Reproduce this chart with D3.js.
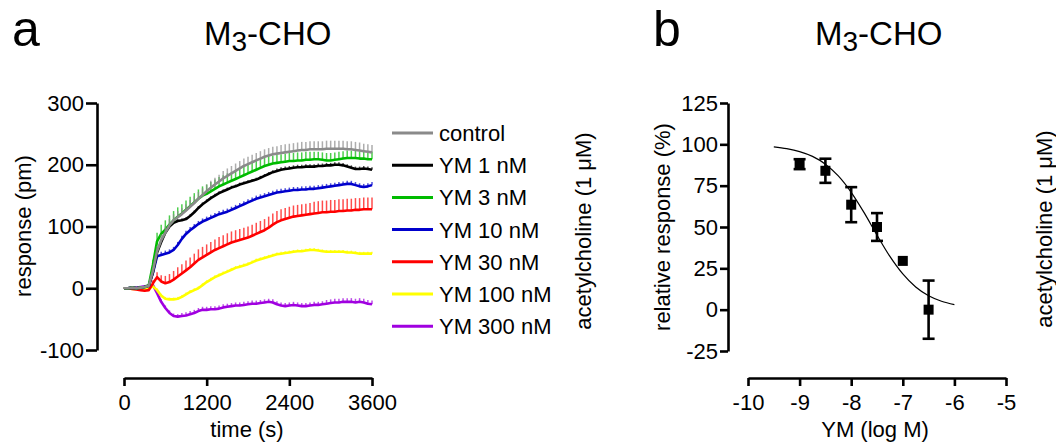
<!DOCTYPE html>
<html>
<head>
<meta charset="utf-8">
<script src="https://cdn.jsdelivr.net/npm/d3@7"></script>
<style>
body { margin: 0; background: #fff; }
svg text { font-family: Arial, "Liberation Sans", sans-serif; fill: #000; }
</style>
</head>
<body>
<svg id="chart" width="1056" height="448"></svg>
<script>
// ---- panel a: time course (sampled every 60 s) ----
const times = d3.range(0, 3660, 60);

const seriesNames = ["control", "YM 1 nM", "YM 3 nM", "YM 10 nM", "YM 30 nM", "YM 100 nM", "YM 300 nM"];
const seriesColors = ["#8a8a8a", "#000000", "#00bb00", "#0000cc", "#ff0000", "#ffff00", "#a000e0"];

const controlVals = [0,0,1,0,1,2,4,28,60,78,
  90,102,110,115,120,126,132,138,145,151,
  157,163,168,173,178,182,186,190,194,198,
  201,204,207,210,213,215,217,218,219,220,
  221,222,223,224,224,225,225,225,225,226,
  226,226,226,226,225,225,224,223,222,221,
  220];
const ym1Vals = [0,0,1,0,1,2,4,26,58,75,
  90,100,106,109,110,112,117,123,130,136,
  141,146,150,154,157,160,163,165,168,170,
  172,174,176,179,182,185,188,190,192,193,
  194,195,196,196,197,197,197,198,198,199,
  199,200,200,199,197,195,193,193,194,193,
  192];
const ym3Vals = [0,0,1,0,1,2,5,38,76,88,
  95,103,110,116,121,127,133,139,145,150,
  153,157,161,165,168,171,174,177,180,183,
  186,189,192,195,198,200,202,203,204,205,
  206,206,207,207,208,208,209,209,208,207,
  207,208,209,210,211,211,211,210,210,209,
  209];
const ym10Vals = [0,0,1,0,1,2,4,25,52,54,
  56,58,62,70,80,88,94,99,104,108,
  111,114,117,120,122,124,127,130,133,136,
  139,142,145,147,149,151,153,155,156,157,
  158,159,159,160,160,161,161,162,163,164,
  165,166,167,168,169,169,167,165,164,165,
  167];
const ym30Vals = [0,0,-1,-2,-3,-4,-3,8,18,11,
  8,10,14,19,24,29,34,40,46,50,
  54,58,62,65,68,71,74,76,78,80,
  82,85,88,91,94,98,103,107,110,112,
  114,116,117,118,119,120,121,122,123,123,
  124,124,125,125,126,126,127,127,128,128,
  128];
const ym100Vals = [0,0,-1,-1,-2,-2,0,3,-3,-12,
  -17,-18,-18,-17,-14,-10,-6,-3,0,5,
  10,14,18,21,24,27,30,33,35,37,
  39,42,45,47,49,51,53,55,56,57,
  58,59,60,60,61,62,62,61,60,59,
  59,59,59,59,58,58,57,56,56,56,
  56];
const ym300Vals = [0,0,1,1,2,3,4,5,-8,-22,
  -32,-40,-45,-46,-45,-44,-42,-40,-37,-35,
  -35,-34,-34,-33,-31,-30,-29,-28,-28,-27,
  -26,-25,-25,-24,-23,-22,-23,-26,-28,-29,
  -28,-27,-28,-29,-29,-28,-27,-27,-26,-25,
  -24,-23,-23,-22,-22,-22,-23,-22,-23,-25,
  -26];

// upward SEM
const controlErr = [1,1,1,1,1,1,1,5,8,9,
  10,10,10,10,10,10,11,11,11,11,
  11,11,11,11,12,12,12,12,12,12,
  12,12,12,12,12,12,12,12,13,13,
  13,13,13,13,13,13,13,13,13,13,
  13,13,13,13,13,13,13,13,12,12,
  12];
const ym1Err = [1,1,1,1,1,1,1,2,3,3,
  3,3,3,3,3,3,3,3,3,3,
  3,3,3,3,3,3,3,3,3,3,
  3,3,3,3,3,3,3,4,4,4,
  4,4,4,4,4,4,4,4,4,4,
  4,4,4,4,4,4,4,4,4,4,
  4];
const ym3Err = [1,1,1,1,1,1,1,8,14,15,
  15,15,15,15,15,15,15,15,15,15,
  15,15,15,15,15,15,14,14,14,14,
  14,14,14,14,14,14,13,13,13,13,
  13,13,13,13,13,13,12,12,12,12,
  12,12,12,12,12,12,12,12,12,12,
  12];
const ym10Err = [1,1,1,1,1,1,1,3,5,5,
  5,5,5,5,5,5,5,5,5,5,
  5,5,5,5,5,5,5,5,5,5,
  5,5,5,5,5,5,5,5,5,5,
  5,5,5,5,5,5,5,5,5,5,
  5,5,5,5,5,5,5,5,5,5,
  5];
const ym30Err = [1,1,1,1,1,1,2,5,8,10,
  12,13,14,15,15,16,16,16,17,17,
  17,17,17,18,18,18,18,18,18,18,
  18,18,18,18,18,18,18,18,18,18,
  18,18,18,18,18,18,19,19,19,19,
  19,19,19,19,19,19,19,19,19,19,
  19];
const ym100Err = [1,1,1,1,1,1,1,2,3,3,
  3,3,3,3,3,3,3,3,3,3,
  3,3,3,3,3,3,3,3,3,3,
  3,3,3,3,3,3,3,3,3,3,
  3,3,3,3,3,3,3,3,3,3,
  3,3,3,3,3,3,3,3,3,3,
  3];
const ym300Err = [1,1,1,1,1,1,1,2,3,4,
  4,4,4,4,5,5,5,5,5,5,
  5,5,5,5,5,5,5,5,5,5,
  5,5,5,5,5,5,5,5,5,5,
  5,5,5,5,5,5,5,5,5,6,
  6,6,6,6,6,6,6,6,6,6,
  6];

const seriesVals = [controlVals, ym1Vals, ym3Vals, ym10Vals, ym30Vals, ym100Vals, ym300Vals];
const seriesErr = [controlErr, ym1Err, ym3Err, ym10Err, ym30Err, ym100Err, ym300Err];
const drawOrder = [6, 5, 4, 3, 1, 2, 0];

const yTicksA = [-100, 0, 100, 200, 300];
const xTicksA = [0, 1200, 2400, 3600];

// ---- panel b: concentration-response ----
const logYM = [-9, -8.5, -8, -7.5, -7, -6.5];
const relResp = [88, 84, 63.5, 50, 29.5, 0];
const relErr = [3, 7.3, 10.6, 8.4, 1, 17.6];
const fitX = [-9.5, -9.25, -9, -8.75, -8.5, -8.25, -8, -7.75, -7.5, -7.25, -7, -6.75, -6.5, -6.25, -6];
const fitY = [98.5, 97.4, 95.6, 92.7, 88.0, 80.9, 71.0, 58.7, 45.1, 32.2, 21.6, 13.7, 8.4, 5.1, 3.0];
const yTicksB = [-25, 0, 25, 50, 75, 100, 125];
const xTicksB = [-10, -9, -8, -7, -6, -5];

const svg = d3.select("#chart");

function styleAxis(g) {
    g.attr("font-size", 22).attr("font-family", "Arial, 'Liberation Sans', sans-serif");
    g.select(".domain").attr("stroke", "#000").attr("stroke-width", 2.6);
    g.selectAll(".tick line").attr("stroke", "#000").attr("stroke-width", 2.6);
    g.selectAll(".tick text").attr("fill", "#000");
}

function title(x, letter) {
    svg.append("text").attr("x", x).attr("y", 46).attr("font-size", 50).text(letter);
}
function cellTitle(x) {
    const t = svg.append("text").attr("x", x).attr("y", 45).attr("font-size", 33);
    t.append("tspan").text("M");
    t.append("tspan").attr("font-size", 28).attr("dy", 6).text("3");
    t.append("tspan").attr("dy", -6).text("-CHO");
}

// ---------- panel a ----------
title(12, "a");
cellTitle(204);

const xA = d3.scaleLinear().domain([0, 3600]).range([124, 372]);
const yA = d3.scaleLinear().domain([-100, 300]).range([350, 103]);

svg.append("g")
    .attr("transform", "translate(97,0)")
    .call(d3.axisLeft(yA).tickValues(yTicksA).tickSize(11).tickPadding(2).tickSizeOuter(0).tickFormat(d => String(d)))
    .call(styleAxis);

svg.append("g")
    .attr("transform", "translate(0,378)")
    .call(d3.axisBottom(xA).tickValues(xTicksA).tickSize(8).tickPadding(8).tickSizeOuter(0).tickFormat(d => String(d)))
    .call(styleAxis);

svg.append("text").attr("transform", "translate(31,226) rotate(-90)")
    .attr("text-anchor", "middle").attr("font-size", 22).text("response (pm)");
svg.append("text").attr("x", 247).attr("y", 437)
    .attr("text-anchor", "middle").attr("font-size", 22).text("time (s)");

const lineA = d3.line().x((d, i) => xA(times[i])).y(d => yA(d));

drawOrder.forEach(k => {
    const vals = seriesVals[k];
    const errs = seriesErr[k];
    const g = svg.append("g");
    g.selectAll("line")
        .data(vals)
        .join("line")
        .attr("x1", (d, i) => xA(times[i]))
        .attr("x2", (d, i) => xA(times[i]))
        .attr("y1", d => yA(d))
        .attr("y2", (d, i) => yA(d + errs[i]))
        .attr("stroke", seriesColors[k])
        .attr("stroke-opacity", 0.7)
        .attr("stroke-width", 1.5);
    g.append("path")
        .datum(vals)
        .attr("d", lineA)
        .attr("fill", "none")
        .attr("stroke", seriesColors[k])
        .attr("stroke-width", 2.6)
        .attr("stroke-linejoin", "round");
});

// legend
const legend = svg.append("g");
seriesNames.forEach((name, i) => {
    const ly = 133 + i * 32.2;
    legend.append("line").attr("x1", 392).attr("x2", 433).attr("y1", ly).attr("y2", ly)
        .attr("stroke", seriesColors[i]).attr("stroke-width", 3);
    legend.append("text").attr("x", 439).attr("y", ly + 8).attr("font-size", 22).text(name);
});

svg.append("text").attr("transform", "translate(591,231) rotate(-90)")
    .attr("text-anchor", "middle").attr("font-size", 22).text("acetylcholine (1 μM)");

// ---------- panel b ----------
title(653, "b");
cellTitle(815);

const xB = d3.scaleLinear().domain([-10, -5]).range([748, 1006]);
const yB = d3.scaleLinear().domain([-25, 125]).range([351, 103]);

svg.append("g")
    .attr("transform", "translate(728,0)")
    .call(d3.axisLeft(yB).tickValues(yTicksB).tickSize(8).tickPadding(2).tickSizeOuter(0).tickFormat(d => String(d)))
    .call(styleAxis);

svg.append("g")
    .attr("transform", "translate(0,378)")
    .call(d3.axisBottom(xB).tickValues(xTicksB).tickSize(8).tickPadding(8).tickSizeOuter(0).tickFormat(d => String(d)))
    .call(styleAxis);

svg.append("text").attr("transform", "translate(670,227) rotate(-90)")
    .attr("text-anchor", "middle").attr("font-size", 22).text("relative response (%)");
svg.append("text").attr("x", 875).attr("y", 437)
    .attr("text-anchor", "middle").attr("font-size", 22).text("YM (log M)");

svg.append("path")
    .datum(fitX.map((x, i) => [x, fitY[i]]))
    .attr("d", d3.line().x(d => xB(d[0])).y(d => yB(d[1])).curve(d3.curveMonotoneX))
    .attr("fill", "none").attr("stroke", "#000").attr("stroke-width", 1.2);

const pts = svg.append("g");
logYM.forEach((x, i) => {
    const cx = xB(x);
    const top = yB(relResp[i] + relErr[i]);
    const bot = yB(relResp[i] - relErr[i]);
    // error bars hidden when shorter than the symbol
    if (bot - top > 8) {
        pts.append("line").attr("x1", cx).attr("x2", cx).attr("y1", top).attr("y2", bot)
            .attr("stroke", "#000").attr("stroke-width", 2.6);
        [top, bot].forEach(yy => {
            pts.append("line").attr("x1", cx - 6).attr("x2", cx + 6).attr("y1", yy).attr("y2", yy)
                .attr("stroke", "#000").attr("stroke-width", 2.6);
        });
    }
    pts.append("rect").attr("x", cx - 5).attr("y", yB(relResp[i]) - 5)
        .attr("width", 10).attr("height", 10).attr("fill", "#000");
});

svg.append("text").attr("transform", "translate(1052,229) rotate(-90)")
    .attr("text-anchor", "middle").attr("font-size", 22).text("acetylcholine (1 μM)");
</script>
</body>
</html>
